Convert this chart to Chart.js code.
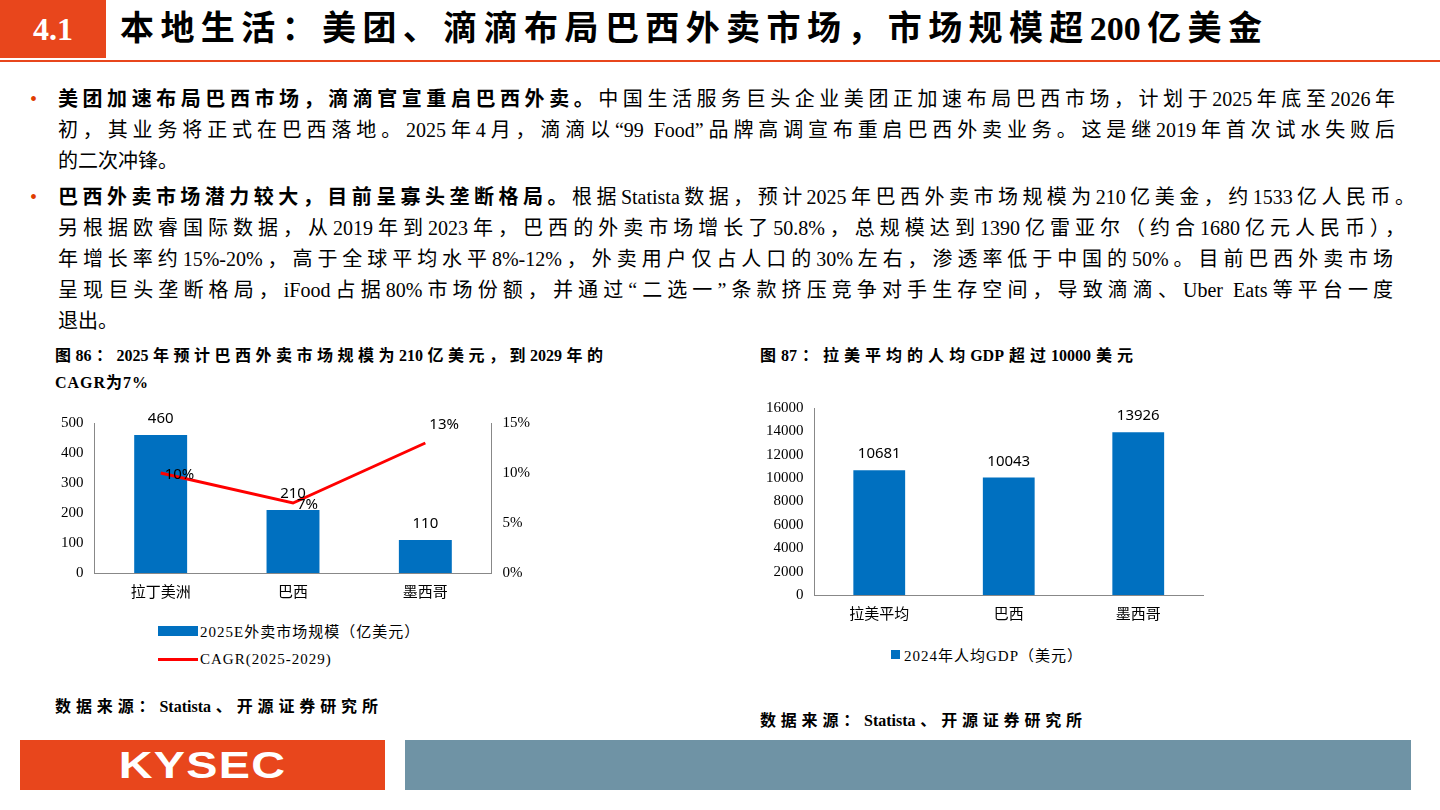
<!DOCTYPE html>
<html><head><meta charset="utf-8">
<script src="https://cdn.jsdelivr.net/npm/chart.js@4"></script>
<style>
body{margin:0;width:1440px;height:810px;position:relative;background:#fff;overflow:hidden;font-family:"Liberation Serif","Noto Sans CJK SC",serif;color:#000}
.abs{position:absolute}
.j{text-align:justify;text-align-last:justify;white-space:nowrap}
.ln{position:absolute;left:58px;font-size:20px;line-height:31px;height:31px}
.dot{position:absolute;left:30px;color:#e03c00;font-size:20px;line-height:31px}
.ct{font-size:16px;font-weight:bold;line-height:27px;height:27px}
.lg{font-size:15px;display:flex;align-items:center;letter-spacing:1px}
</style></head><body>
<div class="abs" style="left:0;top:0;width:106px;height:58px;background:#e8461c;color:#fff;font-size:32px;font-weight:bold;line-height:58px;text-align:center">4.1</div>
<div class="abs j" style="left:120px;top:6px;width:1142px;font-size:34px;font-weight:bold;line-height:46px">本地生活：美团、滴滴布局巴西外卖市场，市场规模超200亿美金</div>
<div class="abs" style="left:0;top:60px;width:1440px;height:2px;background:#e8461c"></div>

<div class="dot" style="top:84px">•</div>
<div class="ln j" style="top:84px;width:1337px"><b>美团加速布局巴西市场，滴滴官宣重启巴西外卖。</b>中国生活服务巨头企业美团正加速布局巴西市场，计划于2025年底至2026年</div>
<div class="ln j" style="top:115px;width:1337px">初，其业务将正式在巴西落地。2025年4月，滴滴以“99 Food”品牌高调宣布重启巴西外卖业务。这是继2019年首次试水失败后</div>
<div class="ln" style="top:146px">的二次冲锋。</div>

<div class="dot" style="top:182px">•</div>
<div class="ln j" style="top:182px;width:1357px"><b>巴西外卖市场潜力较大，目前呈寡头垄断格局。</b>根据Statista数据，预计2025年巴西外卖市场规模为210亿美金，约1533亿人民币。</div>
<div class="ln j" style="top:213px;width:1347px">另根据欧睿国际数据，从2019年到2023年，巴西的外卖市场增长了50.8%，总规模达到1390亿雷亚尔（约合1680亿元人民币），</div>
<div class="ln j" style="top:244px;width:1335px">年增长率约15%-20%，高于全球平均水平8%-12%，外卖用户仅占人口的30%左右，渗透率低于中国的50%。目前巴西外卖市场</div>
<div class="ln j" style="top:275px;width:1335px">呈现巨头垄断格局，iFood占据80%市场份额，并通过“二选一”条款挤压竞争对手生存空间，导致滴滴、Uber Eats等平台一度</div>
<div class="ln" style="top:306px">退出。</div>

<div class="abs ct j" style="left:55px;top:342px;width:548px">图86：2025年预计巴西外卖市场规模为210亿美元，到2029年的</div>
<div class="abs ct" style="left:55px;top:369px;letter-spacing:1px">CAGR为7%</div>
<div class="abs ct j" style="left:760px;top:342px;width:373px">图87：拉美平均的人均GDP超过10000美元</div>

<div class="abs" style="left:58px;top:405px"><canvas id="c1" width="485" height="200"></canvas></div>
<div class="abs" style="left:763px;top:396px"><canvas id="c2" width="460" height="231"></canvas></div>

<div class="abs lg" style="left:158px;top:620px"><span style="display:inline-block;width:40px;height:10px;background:#0070c0;margin-right:2px"></span>2025E外卖市场规模（亿美元）</div>
<div class="abs lg" style="left:158px;top:651px"><span style="display:inline-block;width:40px;height:3px;background:#ff0000;margin-right:2px"></span>CAGR(2025-2029)</div>
<div class="abs lg" style="left:891px;top:644px"><span style="display:inline-block;width:9px;height:9px;background:#0070c0;margin-right:4px"></span>2024年人均GDP（美元）</div>

<div class="abs ct j" style="left:55px;top:693px;width:323px">数据来源：Statista、开源证券研究所</div>
<div class="abs ct j" style="left:760px;top:707px;width:322px">数据来源：Statista、开源证券研究所</div>

<div class="abs" style="left:20px;top:740px;width:365px;height:50px;background:#e8461c;overflow:hidden;text-align:center"><span style="display:inline-block;color:#fff;font-family:'Liberation Sans',sans-serif;font-weight:bold;font-size:36px;line-height:52px;letter-spacing:1px;transform:scaleX(1.3)">KYSEC</span></div>
<div class="abs" style="left:405px;top:740px;width:1006px;height:50px;background:#6f93a5"></div>

<script>
const regions1 = ['拉丁美洲', '巴西', '墨西哥'];
const marketSize = [460, 210, 110];
const cagr = [10, 7, 13];
const regions2 = ['拉美平均', '巴西', '墨西哥'];
const gdpPerCapita = [10681, 10043, 13926];

const tickFont = {family: '"Liberation Serif","Noto Sans CJK SC",serif', size: 15};
const labelFont = {family: '"Noto Sans","Noto Sans CJK SC",sans-serif', size: 15};

// draws value labels above bars / next to points
const valueLabels = {
    id: 'valueLabels',
    afterDatasetsDraw(chart) {
        const ctx = chart.ctx;
        ctx.save();
        ctx.fillStyle = '#000';
        ctx.font = labelFont.size + 'px ' + labelFont.family;
        chart.data.datasets.forEach((ds, i) => {
            chart.getDatasetMeta(i).data.forEach((el, j) => {
                const v = ds.data[j];
                if (ds.type === 'line') {
                    ctx.textAlign = 'left';
                    ctx.fillText(v + '%', el.x + 4, el.y + 6 + (j == 2 ? -20 : 0));
                } else {
                    ctx.textAlign = 'center';
                    ctx.fillText(v, el.x, el.y - 12);
                }
            });
        });
        ctx.restore();
    }
};

new Chart(document.getElementById('c1'), {
    data: {
        labels: regions1,
        datasets: [
            {type: 'line', data: cagr, borderColor: '#ff0000', borderWidth: 3, pointRadius: 0, yAxisID: 'y1', order: 0},
            {type: 'bar', data: marketSize, backgroundColor: '#0070c0', categoryPercentage: 0.8, barPercentage: 0.5, yAxisID: 'y', order: 1}
        ]
    },
    options: {
        responsive: false, animation: false,
        layout: {padding: {top: 18, right: 10}},
        plugins: {legend: {display: false}, tooltip: {enabled: false}},
        scales: {
            x: {grid: {display: false}, border: {color: '#888'}, ticks: {color: '#000', font: tickFont}},
            y: {min: 0, max: 500, ticks: {stepSize: 100, color: '#000', font: tickFont}, grid: {display: false}, border: {color: '#888'}},
            y1: {position: 'right', min: 0, max: 15, ticks: {stepSize: 5, color: '#000', font: tickFont, callback: v => v + '%'}, grid: {display: false}, border: {color: '#888'}}
        }
    },
    plugins: [valueLabels]
});

new Chart(document.getElementById('c2'), {
    type: 'bar',
    data: {labels: regions2, datasets: [{data: gdpPerCapita, backgroundColor: '#0070c0', categoryPercentage: 0.8, barPercentage: 0.5}]},
    options: {
        responsive: false, animation: false,
        layout: {padding: {top: 8, right: 20}},
        plugins: {legend: {display: false}, tooltip: {enabled: false}},
        scales: {
            x: {grid: {display: false}, border: {color: '#888'}, ticks: {color: '#000', font: tickFont}},
            y: {min: 0, max: 16000, ticks: {stepSize: 2000, color: '#000', font: tickFont, callback: v => String(v)}, grid: {display: false}, border: {color: '#888'}}
        }
    },
    plugins: [valueLabels]
});
</script>
</body></html>
